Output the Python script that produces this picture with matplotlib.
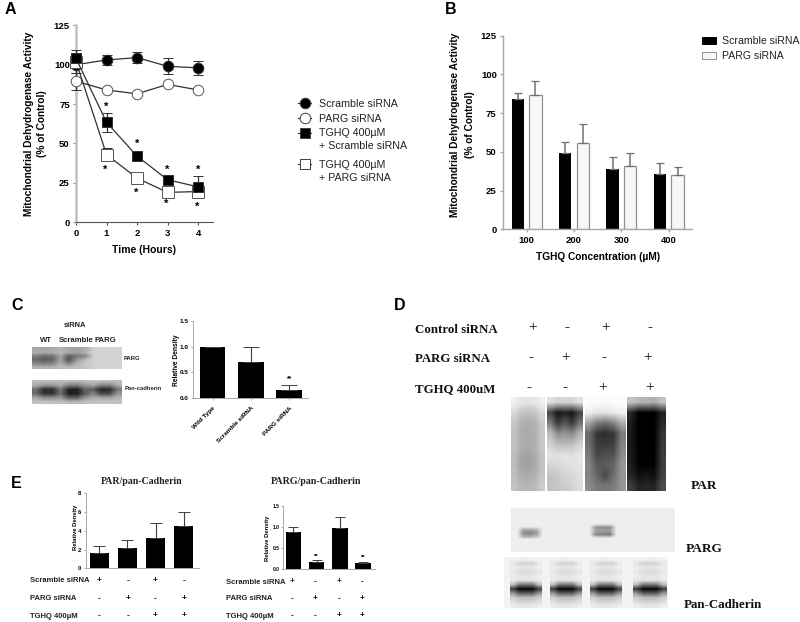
import numpy as np
from matplotlib import pyplot as plt

plt.rcParams['font.family'] = ['Liberation Sans', 'DejaVu Sans']
W, H = 800, 622
AXIS_GREY = '#a8a8a8'
ERR_GREY = '#707070'

# panel A
hours = [0, 1, 2, 3, 4]
scramble = [100, 103, 104.5, 99, 98]
scramble_err = [5, 3.2, 3.4, 5.2, 4.5]
parg = [89.5, 84, 81.5, 87.5, 84]
parg_err = [5.5, 0, 0, 0, 0]
tghq_scramble = [104, 63.5, 42, 27, 22.5]
tghq_scramble_err = [5.5, 6, 2.5, 2.5, 7]
tghq_parg = [102, 43, 28, 19, 19.5]
tghq_parg_err = [3.5, 4.2, 3, 2.5, 3.8]
stars_upper = [73.5, 49.5, 33.5, 33.5]
stars_lower = [33, 19, 11.5, 9.5]

# panel B
conc = ['100', '200', '300', '400']
b_scramble = [84, 49.5, 39, 35.5]
b_scramble_err = [4.2, 7, 7.5, 7]
b_parg = [87, 55.5, 41, 35]
b_parg_err = [8.5, 12.5, 8.3, 5]

# panel C
c_names = ['Wild Type', 'Scramble siRNA', 'PARG siRNA']
c_vals = [1.0, 0.71, 0.15]
c_err = [0, 0.28, 0.11]

# panel E
e_par = [1.65, 2.15, 3.25, 4.5]
e_par_err = [0.75, 0.85, 1.55, 1.5]
e_parg = [0.88, 0.16, 0.99, 0.13]
e_parg_err = [0.12, 0.04, 0.25, 0.04]
row_names = ['Scramble siRNA', 'PARG siRNA', 'TGHQ 400µM']
row_signs = [['+', '-', '+', '-'], ['-', '+', '-', '+'], ['-', '-', '+', '+']]
d_row_names = ['Control siRNA', 'PARG siRNA', 'TGHQ 400uM']

# blot grey levels
par_lanes = [
    [[240, 230, 228, 230, 240], [218, 195, 190, 195, 218], [198, 178, 172, 178, 202], [194, 172, 168, 175, 198],
     [194, 176, 172, 176, 200], [190, 168, 162, 172, 196], [188, 162, 160, 168, 194], [190, 174, 172, 178, 196],
     [196, 182, 180, 186, 204]],
    [[225, 212, 214, 214, 228], [70, 22, 34, 20, 70], [125, 58, 90, 58, 115], [188, 140, 150, 138, 180],
     [208, 186, 184, 190, 208], [228, 222, 228, 222, 230], [214, 214, 224, 224, 228], [196, 202, 212, 216, 224],
     [194, 198, 204, 210, 222]],
    [[252, 252, 248, 252, 252], [238, 228, 226, 232, 242], [165, 122, 110, 130, 172], [105, 52, 44, 56, 122],
     [112, 60, 58, 64, 132], [122, 70, 78, 80, 142], [132, 90, 92, 102, 152], [132, 102, 72, 110, 150],
     [140, 120, 118, 124, 150]],
    [[195, 182, 180, 172, 195], [42, 0, 0, 0, 35], [28, 0, 0, 0, 42], [26, 0, 0, 0, 55],
     [26, 0, 0, 0, 60], [28, 0, 0, 0, 62], [30, 2, 2, 2, 62], [38, 14, 22, 14, 66],
     [62, 35, 38, 36, 78]],
]
d_parg_band1 = [[238, 238, 238, 238, 238], [238, 170, 165, 180, 238], [238, 140, 130, 150, 238],
                [238, 170, 165, 185, 238], [238, 238, 238, 238, 238]]
d_parg_band2 = [[238, 238, 238, 238, 238], [238, 150, 140, 140, 238], [238, 165, 160, 155, 238],
                [238, 135, 130, 122, 238], [238, 238, 238, 238, 238]]
pancad_rows = [
    [242, 240, 240, 240, 242], [230, 212, 210, 212, 232], [236, 232, 230, 232, 238], [232, 218, 216, 218, 232],
    [236, 230, 230, 230, 238], [232, 226, 226, 226, 234], [190, 120, 120, 120, 190], [60, 8, 6, 8, 60],
    [150, 90, 90, 90, 150], [205, 185, 182, 185, 205], [222, 210, 208, 210, 222], [238, 232, 230, 232, 238],
]
c_parg_blot = [
    [168, 165, 168, 178, 165, 160, 172, 205, 210, 212, 212],
    [172, 170, 174, 182, 168, 160, 178, 208, 212, 212, 212],
    [125, 108, 112, 165, 90, 118, 130, 205, 210, 212, 212],
    [105, 92, 100, 160, 82, 150, 190, 208, 212, 212, 212],
    [135, 125, 130, 175, 130, 180, 196, 208, 212, 212, 212],
    [178, 176, 178, 186, 186, 190, 198, 206, 210, 212, 212],
]
c_pan_blot = [
    [188, 188, 188, 188, 188, 186, 190, 194, 194, 192, 190],
    [172, 150, 150, 168, 130, 125, 150, 165, 130, 130, 172],
    [110, 45, 45, 120, 35, 30, 100, 90, 40, 45, 120],
    [105, 50, 50, 110, 30, 30, 90, 130, 70, 75, 150],
    [165, 140, 140, 150, 95, 95, 145, 170, 165, 165, 178],
    [196, 194, 194, 192, 186, 186, 190, 196, 196, 196, 196],
]


def add_ax(x0, y0, x1, y1):
    # box in picture pixels, y from the top
    return fig.add_axes([x0 / W, 1 - y1 / H, (x1 - x0) / W, (y1 - y0) / H])


def put(x, y, s, **kw):
    kw.setdefault('va', 'center')
    fig.text(x / W, 1 - y / H, s, **kw)


def blot(x0, y0, x1, y1, rows):
    ax = add_ax(x0, y0, x1, y1)
    ax.imshow(rows, cmap='gray', vmin=0, vmax=255, aspect='auto', interpolation='bilinear')
    ax.axis('off')
    return ax


def style(ax, color=AXIS_GREY, lw=1.0, ticksize=6.8, ticklen=2.5, pad=2):
    ax.spines[['top', 'right']].set_visible(False)
    ax.spines[['left', 'bottom']].set_color(color)
    ax.spines[['left', 'bottom']].set_linewidth(lw)
    ax.tick_params(color=color, width=lw, length=ticklen, labelsize=ticksize, pad=pad)
    for t in ax.get_xticklabels() + ax.get_yticklabels():
        t.set_fontweight('bold')


def key_block(marker, face, labels, top, spacing):
    # one key symbol beside its first text line, second line has no symbol
    hs = [plt.Line2D([], [], color='#303030', lw=0.8, marker=marker, ms=7.6, mfc=face, mec='#404040', mew=0.7)]
    hs += [plt.Line2D([], [], alpha=0)] * (len(labels) - 1)
    fig.legend(hs, labels, loc='upper left', bbox_to_anchor=(298 / W, 1 - top / H), frameon=False, fontsize=7.7,
               handlelength=1.25, handletextpad=0.72, labelspacing=spacing, borderaxespad=0, borderpad=0,
               labelcolor='#222222')


fig = plt.figure(figsize=(W / 100, H / 100), dpi=100)

# A
ax = add_ax(76, 25.3, 213, 222.3)
ax.set_xlim(0, 4.49)
ax.set_ylim(0, 125)
series = [
    (scramble, scramble_err, 'o', 'black', 7.6),
    (parg, parg_err, 'o', 'white', 7.6),
    (tghq_parg, tghq_parg_err, 's', 'white', 8),
    (tghq_scramble, tghq_scramble_err, 's', 'black', 7.4),
]
for vals, err, mark, face, size in series:
    ax.errorbar(hours, vals, yerr=err, color='#303030', lw=0.9, elinewidth=0.9, capsize=3.5, capthick=0.9,
                marker=mark, ms=size, mfc=face, mec='#303030' if face == 'black' else '#555555',
                mew=0.7, clip_on=False, zorder=3)
for h, y in zip(hours[1:], stars_upper):
    ax.text(h, y, '*', ha='center', va='center', fontsize=8, fontweight='bold')
for h, y in zip(hours[1:], stars_lower):
    ax.text(h - 0.03, y, '*', ha='center', va='center', fontsize=8, fontweight='bold')
ax.set_xticks(hours)
ax.set_yticks([0, 25, 50, 75, 100, 125])
style(ax, color='#555555', lw=0.8)
ax.spines['left'].set_color('#c0c0c0')
ax.spines['left'].set_linewidth(1.8)
ax.tick_params(axis='y', color='#909090')
put(29.5, 124, 'Mitochondrial Dehydrogenase Activity', rotation=90, ha='center', fontsize=7.3, fontweight='bold')
put(42, 124, '(% of Control)', rotation=90, ha='center', fontsize=7.3, fontweight='bold')
put(144, 250, 'Time (Hours)', ha='center', fontsize=7.5, fontweight='bold')
key_block('o', 'black', ['Scramble siRNA'], 99, 0.1)
key_block('o', 'white', ['PARG siRNA'], 113.5, 0.1)
key_block('s', 'black', ['TGHQ 400µM', '+ Scramble siRNA'], 128.5, 0.25)
key_block('s', 'white', ['TGHQ 400µM', '+ PARG siRNA'], 160, 0.25)

# B
ax = add_ax(503, 35.7, 692, 229.3)
pos = np.arange(len(conc))
ax.bar(pos - 0.186, b_scramble, 0.26, color='black', yerr=[[0] * 4, b_scramble_err],
       error_kw=dict(ecolor=ERR_GREY, elinewidth=1.1, capsize=3, capthick=0.9))
ax.bar(pos + 0.186, b_parg, 0.26, color='#f7f7f7', edgecolor='#909090', lw=0.9, yerr=[[0] * 4, b_parg_err],
       error_kw=dict(ecolor=ERR_GREY, elinewidth=1.1, capsize=3, capthick=0.9))
ax.set_xlim(-0.5, 3.49)
ax.set_ylim(0, 125)
ax.set_xticks(pos, conc)
ax.set_yticks([0, 25, 50, 75, 100, 125])
style(ax)
put(454.5, 125, 'Mitochondrial Dehydrogenase Activity', rotation=90, ha='center', fontsize=7.3, fontweight='bold')
put(470, 125, '(% of Control)', rotation=90, ha='center', fontsize=7.3, fontweight='bold')
put(598, 256.5, 'TGHQ Concentration (µM)', ha='center', fontsize=7.3, fontweight='bold')
b_handles = [plt.Rectangle((0, 0), 1, 1, fc='black', ec='black', lw=0.7),
             plt.Rectangle((0, 0), 1, 1, fc='#f7f7f7', ec='#909090', lw=0.7)]
fig.legend(b_handles, ['Scramble siRNA', 'PARG siRNA'], loc='upper left', bbox_to_anchor=(702 / W, 1 - 36 / H),
           frameon=False, fontsize=7.6, handlelength=1.3, handleheight=0.65, handletextpad=0.6, labelspacing=0.5,
           borderaxespad=0, borderpad=0, labelcolor='#222222')

# C
blot(31.7, 347, 121, 368.7, c_parg_blot)
blot(31.7, 380, 121, 404.3, c_pan_blot)
put(75, 325.5, 'siRNA', ha='center', fontsize=5.4, fontweight='bold', color='#222222')
for x, s in zip([46, 76.5, 105], ['WT', 'Scramble', 'PARG']):
    put(x, 340, s, ha='center', fontsize=5.6, fontweight='bold', color='#222222')
put(123.5, 358, 'PARG', fontsize=4.2, fontweight='bold', color='#222222')
put(124.5, 388, 'Pan-cadherin', fontsize=4.2, fontweight='bold', color='#222222')
ax = add_ax(193.3, 321, 308, 398)
pos = np.arange(len(c_vals))
ax.bar(pos, c_vals, 0.668, color='black', yerr=[[0] * 3, c_err],
       error_kw=dict(ecolor='#404040', elinewidth=0.8, capsize=5.5, capthick=0.7))
ax.set_xlim(-0.507, 2.49)
ax.set_ylim(0, 1.5)
ax.set_xticks(pos, c_names, rotation=45, ha='right', rotation_mode='anchor')
ax.set_yticks([0, 0.5, 1.0, 1.5], ['0.0', '0.5', '1.0', '1.5'])
style(ax, lw=0.7, ticksize=4.6, ticklen=1.5)
ax.tick_params(axis='x', pad=4)
ax.text(2, 0.38, '**', ha='center', va='center', fontsize=4.8, fontweight='bold')
put(176.5, 360, 'Relative Density', rotation=90, ha='center', fontsize=4.8, fontweight='bold')

# D
serif = ['Liberation Serif', 'DejaVu Serif']
for y, s in zip([330, 359.3, 389.3], d_row_names):
    put(414.7, y, s, fontsize=9.3, fontweight='bold', family=serif, color='#111111')
d_sign_x = [[532.3, 567.3, 605.3, 650], [530.7, 565.3, 604, 648], [529.3, 565.3, 602.7, 649.3]]
d_sign_y = [328, 357.7, 387.7]
for xs, y, signs in zip(d_sign_x, d_sign_y, row_signs):
    for x, s in zip(xs, signs):
        put(x, y, s, ha='center', fontsize=11, family=serif, fontweight='bold' if s == '-' else 'normal')
for (x0, x1), rows in zip([(511, 544.3), (547.3, 582.7), (584.7, 625.3), (627.3, 666)], par_lanes):
    blot(x0, 397.3, x1, 490.7, rows)
back = add_ax(511, 508, 675, 551.7)
back.imshow([[238]], cmap='gray', vmin=0, vmax=255, aspect='auto')
back.axis('off')
blot(514, 525, 546, 541, d_parg_band1)
blot(586, 522, 620, 540, d_parg_band2)
back = add_ax(504, 556.7, 668, 608)
back.imshow([[244]], cmap='gray', vmin=0, vmax=255, aspect='auto')
back.axis('off')
for x0, x1 in [(510, 541.7), (550, 581.7), (590, 621.7), (632.7, 666)]:
    blot(x0, 557, x1, 608, pancad_rows)
put(690.7, 486.3, 'PAR', fontsize=9.6, fontweight='bold', family=serif, color='#111111')
put(686, 549, 'PARG', fontsize=9.6, fontweight='bold', family=serif, color='#111111')
put(683.3, 605, 'Pan-Cadherin', fontsize=9.4, fontweight='bold', family=serif, color='#111111')

# E
put(141.5, 482, 'PAR/pan-Cadherin', ha='center', fontsize=7.1, fontweight='bold', family=serif, color='#222222')
put(316.5, 482, 'PARG/pan-Cadherin', ha='center', fontsize=7.2, fontweight='bold', family=serif, color='#222222')
pos = np.arange(4)
ax = add_ax(85.7, 493.3, 199.3, 568.3)
ax.bar(pos, e_par, 0.66, color='black', yerr=[[0] * 4, e_par_err],
       error_kw=dict(ecolor='#404040', elinewidth=0.8, capsize=4.5, capthick=0.7))
ax.set_xlim(-0.49, 3.56)
ax.set_ylim(0, 8)
ax.set_xticks([])
ax.set_yticks([0, 2, 4, 6, 8])
style(ax, lw=0.7, ticksize=4.2, ticklen=1.5)
put(75.5, 527, 'Relative Density', rotation=90, ha='center', fontsize=4.2, fontweight='bold')

ax = add_ax(282.7, 506.3, 375, 568.7)
ax.bar(pos, e_parg, 0.672, color='black', yerr=[[0] * 4, e_parg_err],
       error_kw=dict(ecolor='#404040', elinewidth=0.8, capsize=3.5, capthick=0.7))
for i in [1, 3]:
    ax.text(i, e_parg[i] + e_parg_err[i] + 0.1, '**', ha='center', va='center', fontsize=4.2, fontweight='bold')
ax.set_xlim(-0.46, 3.52)
ax.set_ylim(0, 1.5)
ax.set_xticks([])
ax.set_yticks([0, 0.5, 1.0, 1.5], ['0.0', '0.5', '1.0', '1.5'])
style(ax, lw=0.7, ticksize=3.5, ticklen=1.5, pad=1)
put(267.5, 538, 'Relative Density', rotation=90, ha='center', fontsize=4.2, fontweight='bold')

for lab_x, ys, sign_x in [(30, [580.7, 598.3, 616], [99.3, 128, 155, 184]),
                          (226.3, [582, 598.7, 616], [292.3, 315, 339, 362])]:
    for y, name, signs in zip(ys, row_names, row_signs):
        put(lab_x, y, name, fontsize=5.5, fontweight='bold', color='#222222')
        for x, s in zip(sign_x, signs):
            put(x, y, s, ha='center', fontsize=6, fontweight='bold')

# panel letters
for x, y, s in [(5, 9.5, 'A'), (445, 9, 'B'), (11, 305.5, 'C'), (394, 305.5, 'D'), (11, 483, 'E')]:
    put(x, y, s, fontsize=11.5, fontweight='bold')

fig.savefig('out.png', dpi=100)
